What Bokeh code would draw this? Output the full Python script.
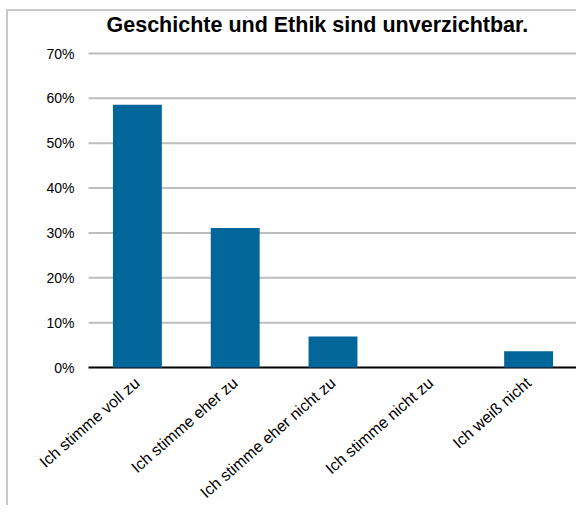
from bokeh.plotting import figure
from bokeh.models import Range1d, LabelSet, ColumnDataSource
from bokeh.core.properties import value
from bokeh.embed import file_html
from bokeh.resources import INLINE

categories = ["Ich stimme voll zu", "Ich stimme eher zu", "Ich stimme eher nicht zu",
              "Ich stimme nicht zu", "Ich weiß nicht"]
values = [0.586, 0.311, 0.069, 0.0, 0.036]
y_ticks = [0, 0.1, 0.2, 0.3, 0.4, 0.5, 0.6, 0.7]
y_tick_labels = ["0%", "10%", "20%", "30%", "40%", "50%", "60%", "70%"]
title_text = "Geschichte und Ethik sind unverzichtbar."

FONT = "Liberation Sans"

# layout (pixels)
W, H = 576, 505
TOP70 = 53               # pixel row of the 70 % line
HEAD = 10                # extra room above the 70 % line for its label
PLOT_LEFT = 88           # where the value area starts
VALUE_H = 314            # pixels from 0% to 70%
VALUE_W = 489            # pixels for the five categories
Y_TOP_TICK = 0.7
PX_Y = VALUE_H / Y_TOP_TICK
PX_X = VALUE_W / len(categories)
Y_MAX = Y_TOP_TICK + HEAD / PX_Y
Y_MIN = -(H - TOP70 - VALUE_H) / PX_Y
X_MIN = -PLOT_LEFT / PX_X
X_MAX = (W - PLOT_LEFT) / PX_X
n = len(categories)
x_pos = [i + 0.5 for i in range(n)]

p = figure(width=W, height=H, x_range=Range1d(X_MIN, X_MAX), y_range=Range1d(Y_MIN, Y_MAX),
           output_backend="svg", toolbar_location=None,
           min_border_left=0, min_border_right=0, min_border_top=TOP70 - HEAD,
           min_border_bottom=0, title=title_text)
p.xaxis.visible = False
p.yaxis.visible = False
p.xgrid.visible = False
p.ygrid.visible = False

# horizontal grid lines and black baseline
grid_y = [t for t in y_ticks if t > 0]
p.segment(x0=[0] * len(grid_y), x1=[n] * len(grid_y), y0=grid_y, y1=grid_y,
          line_color="#BEBEBE", line_width=2)
p.segment(x0=[0], x1=[n], y0=[0], y1=[0], line_color="#000000", line_width=2)

# bars
p.vbar(x=x_pos, top=values, width=0.5, color="#02669B", line_color=None)

# y tick labels
ysrc = ColumnDataSource(data=dict(x=[-14 / PX_X] * len(y_ticks), y=y_ticks, text=y_tick_labels))
p.add_layout(LabelSet(x="x", y="y", text="text", source=ysrc,
                      text_align="right", text_baseline="middle",
                      text_font=value(FONT), text_font_size="14px", text_color="#000000"))

# category labels, slanted, ending under each category centre
csrc = ColumnDataSource(data=dict(x=x_pos, y=[-13 / PX_Y] * n, text=categories))
p.add_layout(LabelSet(x="x", y="y", text="text", source=csrc, angle=0.72,
                      text_align="right", text_baseline="middle",
                      text_font=value(FONT), text_font_size="16px", text_color="#000000"))

p.title.text_font = FONT
p.title.text_font_size = "21.5px"
p.title.text_font_style = "bold"
p.title.text_color = "#000000"
p.title.align = "left"
p.title.offset = 106
p.title.standoff = 24 - HEAD

p.outline_line_color = None
p.background_fill_color = None
p.border_fill_color = None
p.styles = {
    "background": "linear-gradient(#C8C8C8, #C8C8C8) 6px 9px / 2px 100% no-repeat, "
                  "linear-gradient(#C8C8C8, #C8C8C8) 6px 9px / 100% 2px no-repeat, #FFFFFF"
}

open("out.html", "w").write(file_html(p, INLINE))
